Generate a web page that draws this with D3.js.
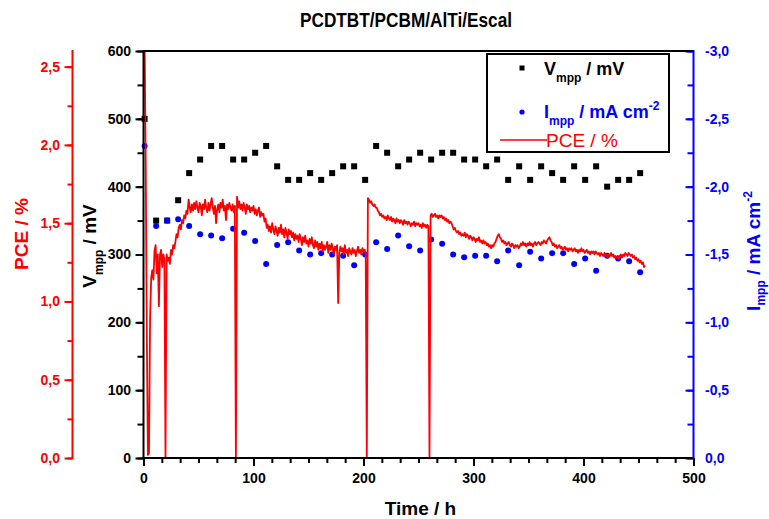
<!DOCTYPE html>
<html>
<head>
<meta charset="utf-8">
<script src="https://cdn.jsdelivr.net/npm/d3@7"></script>
<style>
  body { margin: 0; background: #fff; }
  svg { display: block; }
</style>
</head>
<body>
<svg id="chart" width="769" height="519"></svg>
<script>
// ---- data -------------------------------------------------------------
const chartTitle = "PCDTBT/PCBM/AlTi/Escal";

// Times (h) at which the maximum power point was recorded
const mppHours = [1, 11.5, 21.5, 31.5, 41.5, 51.5, 61.5, 71.5, 81.5, 91.5,
  101.5, 111.5, 121.5, 131.5, 141.5, 151.5, 161.5, 171.5, 181.5, 191.5,
  201.5, 211.5, 221.5, 231.5, 241.5, 251.5, 261.5, 271.5, 281.5, 291.5,
  301.5, 311.5, 321.5, 331.5, 341.5, 351.5, 361.5, 371.5, 381.5, 391.5,
  401.5, 411.5, 421.5, 431.5, 441.5, 451.5];

// Vmpp in mV
const vmppValues = [500, 350, 350, 380, 420, 440, 460, 460, 440, 440,
  450, 460, 430, 410, 410, 420, 410, 420, 430, 430,
  410, 460, 450, 430, 440, 450, 440, 450, 450, 440,
  440, 430, 440, 410, 430, 410, 430, 420, 410, 430,
  410, 430, 400, 410, 410, 420];

// Impp in mA cm^-2
const imppValues = [-2.30, -1.71, -1.75, -1.76, -1.71, -1.65, -1.64, -1.62, -1.69, -1.66,
  -1.60, -1.43, -1.57, -1.59, -1.53, -1.50, -1.51, -1.50, -1.49, -1.42,
  -1.50, -1.59, -1.54, -1.64, -1.56, -1.53, -1.61, -1.58, -1.50, -1.48,
  -1.49, -1.49, -1.45, -1.53, -1.42, -1.52, -1.47, -1.51, -1.51, -1.43,
  -1.47, -1.38, -1.49, -1.47, -1.45, -1.37];

// PCE (%) logged every hour, starting at 0 h
const pceStartHour = 0;
const pceStepHours = 1;
const pceValues = [
  2.65, 2.65, 1.90, 0.80, 0.02, 0.03, 0.90, 1.15, 1.20, 1.14,
  1.32, 1.36, 1.18, 1.30, 0.97, 1.30, 1.33, 1.22, 1.30, 1.27,
  0.00, 1.30, 1.26, 1.28, 1.24, 1.33, 1.30, 1.36, 1.34, 1.38,
  1.43, 1.41, 1.47, 1.49, 1.46, 1.52, 1.50, 1.55, 1.53, 1.58,
  1.56, 1.65, 1.60, 1.57, 1.62, 1.58, 1.63, 1.59, 1.64, 1.60,
  1.57, 1.63, 1.61, 1.55, 1.62, 1.59, 1.65, 1.60, 1.57, 1.63,
  1.58, 1.62, 1.66, 1.60, 1.56, 1.61, 1.50, 1.59, 1.62, 1.57,
  1.63, 1.60, 1.65, 1.58, 1.61, 1.52, 1.62, 1.59, 1.63, 1.60,
  1.58, 1.62, 1.57, 1.61, 0.00, 1.67, 1.60, 1.64, 1.59, 1.62,
  1.58, 1.63, 1.60, 1.56, 1.62, 1.59, 1.61, 1.57, 1.60, 1.58,
  1.61, 1.56, 1.59, 1.55, 1.58, 1.60, 1.54, 1.57, 1.55, 1.56,
  1.51, 1.53, 1.47, 1.49, 1.45, 1.48, 1.44, 1.50, 1.46, 1.43,
  1.48, 1.45, 1.42, 1.47, 1.44, 1.49, 1.43, 1.46, 1.41, 1.47,
  1.44, 1.40, 1.46, 1.43, 1.45, 1.41, 1.44, 1.39, 1.43, 1.40,
  1.42, 1.38, 1.43, 1.40, 1.36, 1.41, 1.38, 1.42, 1.37, 1.39,
  1.35, 1.40, 1.37, 1.41, 1.36, 1.34, 1.39, 1.35, 1.38, 1.33,
  1.37, 1.34, 1.38, 1.32, 1.36, 1.33, 1.35, 1.38, 1.31, 1.36,
  1.33, 1.37, 1.34, 1.30, 1.35, 1.33, 1.36, 0.99, 1.31, 1.35,
  1.32, 1.34, 1.30, 1.36, 1.31, 1.33, 1.29, 1.34, 1.32, 1.30,
  1.34, 1.31, 1.33, 1.29, 1.32, 1.35, 1.31, 1.33, 1.30, 1.34,
  1.32, 1.33, 1.31, 0.00, 1.66, 1.65, 1.63, 1.64, 1.62, 1.61,
  1.62, 1.60, 1.60, 1.58, 1.57, 1.55, 1.56, 1.54, 1.55, 1.53,
  1.54, 1.52, 1.55, 1.53, 1.52, 1.54, 1.51, 1.53, 1.52, 1.50,
  1.53, 1.51, 1.52, 1.50, 1.52, 1.51, 1.49, 1.52, 1.50, 1.51,
  1.49, 1.51, 1.50, 1.48, 1.50, 1.49, 1.51, 1.48, 1.50, 1.49,
  1.50, 1.48, 1.49, 1.47, 1.50, 1.48, 1.49, 1.47, 1.49, 1.48,
  0.00, 1.55, 1.56, 1.54, 1.55, 1.56, 1.54, 1.55, 1.53, 1.55,
  1.54, 1.55, 1.53, 1.54, 1.52, 1.53, 1.51, 1.52, 1.50, 1.51,
  1.50, 1.48, 1.46, 1.47, 1.45, 1.44, 1.45, 1.43, 1.44, 1.42,
  1.43, 1.42, 1.44, 1.41, 1.43, 1.42, 1.40, 1.42, 1.41, 1.39,
  1.41, 1.40, 1.38, 1.40, 1.39, 1.41, 1.38, 1.39, 1.37, 1.39,
  1.37, 1.38, 1.36, 1.37, 1.35, 1.36, 1.34, 1.36, 1.35, 1.37,
  1.38, 1.40, 1.42, 1.43, 1.41, 1.40, 1.38, 1.39, 1.37, 1.38,
  1.36, 1.37, 1.38, 1.36, 1.35, 1.37, 1.36, 1.34, 1.36, 1.35,
  1.36, 1.34, 1.35, 1.37, 1.36, 1.38, 1.36, 1.37, 1.35, 1.37,
  1.36, 1.38, 1.36, 1.37, 1.35, 1.37, 1.38, 1.36, 1.37, 1.38,
  1.37, 1.36, 1.38, 1.37, 1.39, 1.38, 1.37, 1.39, 1.40, 1.41,
  1.39, 1.38, 1.36, 1.37, 1.35, 1.36, 1.34, 1.35, 1.36, 1.34,
  1.35, 1.33, 1.34, 1.35, 1.33, 1.34, 1.32, 1.34, 1.33, 1.34,
  1.32, 1.33, 1.34, 1.32, 1.33, 1.31, 1.33, 1.32, 1.34, 1.32,
  1.33, 1.31, 1.32, 1.33, 1.31, 1.32, 1.30, 1.32, 1.31, 1.32,
  1.30, 1.32, 1.31, 1.30, 1.31, 1.29, 1.31, 1.30, 1.29, 1.31,
  1.29, 1.30, 1.28, 1.30, 1.29, 1.31, 1.29, 1.30, 1.28, 1.29,
  1.28, 1.29, 1.27, 1.29, 1.30, 1.28, 1.30, 1.29, 1.31, 1.30,
  1.29, 1.31, 1.30, 1.29, 1.30, 1.28, 1.29, 1.27, 1.28, 1.26,
  1.27, 1.25, 1.26, 1.24, 1.25, 1.22, 1.23
];

// Axis ticks
const timeTicks = [0, 100, 200, 300, 400, 500];
const vmppTicks = [0, 100, 200, 300, 400, 500, 600];
const pceTicks = [0, 0.5, 1.0, 1.5, 2.0, 2.5];
const imppTicks = [0, -0.5, -1.0, -1.5, -2.0, -2.5, -3.0];

// ---- layout -----------------------------------------------------------
const FONT = "'Liberation Sans', Arial, Helvetica, sans-serif";
const RED = "#ff0000", BLUE = "#0000ff", BLACK = "#000000";
const plotLeft = 143.5, plotRight = 693.5, plotTop = 51, plotBottom = 458;
const pceAxisX = 72.5;

const svg = d3.select("#chart");
svg.append("rect").attr("width", 769).attr("height", 519).attr("fill", "#fff");

const x = d3.scaleLinear().domain([0, 500]).range([plotLeft, plotRight]);
const yV = d3.scaleLinear().domain([0, 600]).range([plotBottom, plotTop]);
const yP = d3.scaleLinear().domain([0, 2.6]).range([plotBottom, plotTop]);
const yI = d3.scaleLinear().domain([0, -3]).range([plotBottom, plotTop]);

const comma = d3.formatLocale({decimal: ",", thousands: ".", grouping: [3],
  currency: ["", ""], minus: "-"}).format(".1f");

// ---- data marks -------------------------------------------------------
svg.append("clipPath").attr("id", "plotClip")
  .append("rect").attr("x", plotLeft).attr("y", plotTop)
  .attr("width", plotRight - plotLeft).attr("height", plotBottom - plotTop);

const mpp = mppHours.map((t, i) => ({t, v: vmppValues[i], i: imppValues[i]}));

svg.append("g").selectAll("rect").data(mpp).join("rect")
  .attr("x", d => x(d.t) - 3).attr("y", d => yV(d.v) - 3)
  .attr("width", 6).attr("height", 6).attr("fill", BLACK);

svg.append("g").selectAll("circle").data(mpp).join("circle")
  .attr("cx", d => x(d.t)).attr("cy", d => yI(d.i))
  .attr("r", 3).attr("fill", BLUE);

const pceLine = d3.line()
  .x((d, k) => x(pceStartHour + k * pceStepHours))
  .y(d => yP(d));

svg.append("path").datum(pceValues)
  .attr("clip-path", "url(#plotClip)")
  .attr("d", pceLine)
  .attr("fill", "none").attr("stroke", RED)
  .attr("stroke-width", 1.8).attr("stroke-linejoin", "round");

// ---- axes ---------------------------------------------------------------
function styleAxis(g, color) {
  g.attr("font-family", FONT).attr("font-size", 14).attr("font-weight", "bold");
  g.select(".domain").remove();
  g.selectAll(".tick line").attr("stroke", color).attr("stroke-width", 2);
  g.selectAll(".tick text").attr("fill", color);
}
function minor(from, to, step) {
  return d3.range(from, to + step / 2, step);
}

// bottom time axis
const gx = svg.append("g").attr("transform", `translate(0,${plotBottom})`);
gx.call(d3.axisBottom(x).tickValues(minor(0, 500, 100 / 6)).tickFormat("").tickSize(5).tickSizeOuter(0));
styleAxis(gx, BLACK);
const gx2 = svg.append("g").attr("transform", `translate(0,${plotBottom})`);
gx2.call(d3.axisBottom(x).tickValues(timeTicks).tickFormat(d3.format("d")).tickSize(8).tickPadding(7).tickSizeOuter(0));
styleAxis(gx2, BLACK);

// left Vmpp axis
const gv = svg.append("g").attr("transform", `translate(${plotLeft},0)`);
gv.call(d3.axisLeft(yV).tickValues(minor(0, 600, 50)).tickFormat("").tickSize(6).tickSizeOuter(0));
styleAxis(gv, BLACK);
const gv2 = svg.append("g").attr("transform", `translate(${plotLeft},0)`);
gv2.call(d3.axisLeft(yV).tickValues(vmppTicks).tickFormat(d3.format("d")).tickSize(8).tickPadding(4.5).tickSizeOuter(0));
styleAxis(gv2, BLACK);

// outer PCE axis
const gp = svg.append("g").attr("transform", `translate(${pceAxisX},0)`);
gp.call(d3.axisLeft(yP).tickValues(minor(0, 2.5, 0.25)).tickFormat("").tickSize(5).tickSizeOuter(0));
styleAxis(gp, RED);
const gp2 = svg.append("g").attr("transform", `translate(${pceAxisX},0)`);
gp2.call(d3.axisLeft(yP).tickValues(pceTicks).tickFormat(comma).tickSize(8).tickPadding(4.5).tickSizeOuter(0));
styleAxis(gp2, RED);

// right Impp axis (ticks point into the plot)
const gi = svg.append("g").attr("transform", `translate(${plotRight},0)`);
gi.call(d3.axisRight(yI).tickValues(minor(-3, 0, 0.25)).tickFormat("").tickSize(5).tickSizeOuter(0));
styleAxis(gi, BLUE);
gi.selectAll(".tick line").attr("x2", -6);
const gi2 = svg.append("g").attr("transform", `translate(${plotRight},0)`);
gi2.call(d3.axisRight(yI).tickValues(imppTicks).tickFormat(comma).tickSize(8).tickPadding(3.5).tickSizeOuter(0));
styleAxis(gi2, BLUE);
gi2.selectAll(".tick line").attr("x2", -8);

// axis lines and frame
const lines = svg.append("g").attr("stroke-width", 2).attr("fill", "none");
lines.append("line").attr("x1", plotLeft).attr("x2", plotRight).attr("y1", plotTop).attr("y2", plotTop).attr("stroke", BLACK);
lines.append("line").attr("x1", plotLeft - 1).attr("x2", plotRight).attr("y1", plotBottom).attr("y2", plotBottom).attr("stroke", BLACK);
lines.append("line").attr("x1", plotLeft).attr("x2", plotLeft).attr("y1", plotTop - 1).attr("y2", plotBottom + 1).attr("stroke", BLACK);
lines.append("line").attr("x1", plotRight).attr("x2", plotRight).attr("y1", plotTop - 1).attr("y2", plotBottom + 1).attr("stroke", BLUE);
lines.append("line").attr("x1", pceAxisX).attr("x2", pceAxisX).attr("y1", plotTop - 1).attr("y2", plotBottom + 1).attr("stroke", RED);

// ---- titles -------------------------------------------------------------
svg.append("text").attr("x", 406).attr("y", 27)
  .attr("text-anchor", "middle").attr("font-family", FONT)
  .attr("font-size", 21).attr("font-weight", "bold").attr("fill", BLACK)
  .attr("textLength", 212).attr("lengthAdjust", "spacingAndGlyphs")
  .text(chartTitle);

svg.append("text").attr("x", (plotLeft + plotRight) / 2 + 2).attr("y", 515)
  .attr("text-anchor", "middle").attr("font-family", FONT)
  .attr("font-size", 19).attr("font-weight", "bold").attr("fill", BLACK)
  .text("Time / h");

function rotatedLabel(cx, cy, color, parts) {
  const t = svg.append("text")
    .attr("transform", `translate(${cx},${cy}) rotate(-90)`)
    .attr("text-anchor", "middle").attr("font-family", FONT)
    .attr("font-weight", "bold").attr("fill", color);
  parts.forEach(p => t.append("tspan")
    .attr("font-size", p.size).attr("dy", p.dy || 0).text(p.text));
  return t;
}

rotatedLabel(28, 234, RED, [{text: "PCE / %", size: 19}]);
rotatedLabel(96, 246, BLACK, [
  {text: "V", size: 19},
  {text: "mpp", size: 12, dy: 7},
  {text: " / mV", size: 19, dy: -7}
]);
rotatedLabel(760, 251, BLUE, [
  {text: "I", size: 19},
  {text: "mpp", size: 12, dy: 5},
  {text: " / mA cm", size: 19, dy: -5},
  {text: "-2", size: 12, dy: -8}
]);

// ---- legend -------------------------------------------------------------
const lg = svg.append("g");
lg.append("rect").attr("x", 487).attr("y", 54).attr("width", 182).attr("height", 98)
  .attr("fill", "#fff").attr("stroke", BLACK).attr("stroke-width", 2);

lg.append("rect").attr("x", 519.5).attr("y", 65.5).attr("width", 5).attr("height", 5).attr("fill", BLACK);
const l1 = lg.append("text").attr("x", 544).attr("y", 75)
  .attr("font-family", FONT).attr("font-weight", "bold").attr("fill", BLACK);
l1.append("tspan").attr("font-size", 18).text("V");
l1.append("tspan").attr("font-size", 12).attr("dy", 7).text("mpp");
l1.append("tspan").attr("font-size", 18).attr("dy", -7).text(" / mV");

lg.append("circle").attr("cx", 522).attr("cy", 112).attr("r", 2.6).attr("fill", BLUE);
const l2 = lg.append("text").attr("x", 544).attr("y", 118)
  .attr("font-family", FONT).attr("font-weight", "bold").attr("fill", BLUE);
l2.append("tspan").attr("font-size", 18).text("I");
l2.append("tspan").attr("font-size", 12).attr("dy", 7).text("mpp");
l2.append("tspan").attr("font-size", 18).attr("dy", -7).text(" / mA cm");
l2.append("tspan").attr("font-size", 12).attr("dy", -8).text("-2");

lg.append("line").attr("x1", 500).attr("x2", 547).attr("y1", 140).attr("y2", 140)
  .attr("stroke", RED).attr("stroke-width", 1.6);
lg.append("text").attr("x", 546).attr("y", 147)
  .attr("font-family", FONT).attr("font-size", 19).attr("fill", RED)
  .text("PCE / %");
</script>
</body>
</html>
